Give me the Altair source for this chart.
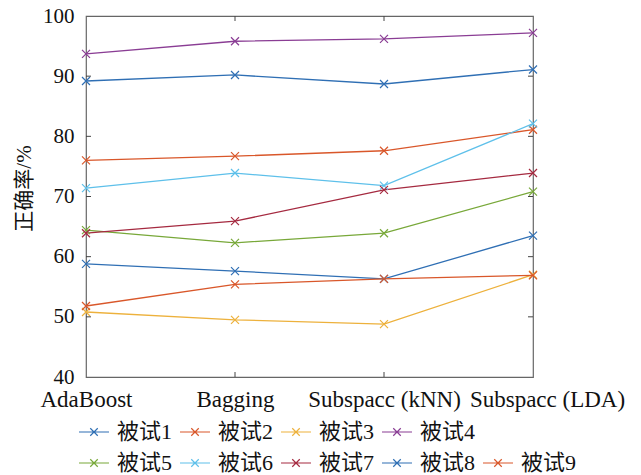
import altair as alt
import pandas as pd

categories = ["AdaBoost", "Bagging", "Subspacc (kNN)", "Subspacc (LDA)"]
series_names = ["被试1", "被试2", "被试3", "被试4", "被试5", "被试6", "被试7", "被试8", "被试9"]
s1 = [89.2, 90.2, 88.7, 91.1]
s2 = [76.0, 76.7, 77.6, 81.1]
s3 = [50.8, 49.5, 48.8, 57.0]
s4 = [93.7, 95.8, 96.2, 97.2]
s5 = [64.4, 62.3, 63.9, 70.8]
s6 = [71.4, 73.9, 71.8, 82.1]
s7 = [63.9, 65.9, 71.1, 73.9]
s8 = [58.8, 57.6, 56.3, 63.5]
s9 = [51.8, 55.4, 56.3, 56.9]
series_values = [s1, s2, s3, s4, s5, s6, s7, s8, s9]
colors = ["#2f6fb4", "#d9572a", "#edb13c", "#8a3d94", "#78a839", "#5ec0ea",
          "#a52a40", "#2f6fb4", "#d9572a"]
y_ticks = [40, 50, 60, 70, 80, 90, 100]
inner_y_ticks = [50, 60, 70, 80, 90]
inner_x_ticks = ["Bagging", "Subspacc (kNN)"]

rows = []
for name, vals in zip(series_names, series_values):
    for c, v in zip(categories, vals):
        rows.append({"series": name, "method": c, "acc": v})
df = pd.DataFrame(rows)

W, H = 447, 361
SERIF = "Liberation Serif, Noto Sans CJK SC"
XPATH = "M-1,-1L1,1M-1,1L1,-1"
LEGPATH = "M-1,0L1,0M-0.25,-0.25L0.25,0.25M-0.25,0.25L0.25,-0.25"

xscale = alt.Scale(type="point", domain=categories, padding=0)
yscale = alt.Scale(domain=[40, 100], nice=False, zero=False)

x_enc = alt.X(
    "method:N",
    scale=xscale,
    sort=categories,
    axis=alt.Axis(
        title=None, labelAngle=0, ticks=False, domain=False, grid=False,
        labelFont=SERIF, labelFontSize=23, labelColor="#111", labelPadding=11,
        labelOffset={"condition": {"test": "datum.value === 'Subspacc (LDA)'", "value": 14}, "value": 0},
    ),
)
y_enc = alt.Y(
    "acc:Q",
    scale=yscale,
    axis=alt.Axis(
        title="正确率/%", values=y_ticks, ticks=False, domain=False, grid=False,
        labelFont=SERIF, labelFontSize=21, labelColor="#111", labelPadding=12,
        titleFont=SERIF, titleFontSize=21, titleFontWeight="normal", titleColor="#111",
        titleX=-52, titleY=172,
    ),
)


def group(names, cols, lx, ly, ncol):
    sub = df[df["series"].isin(names)]
    legend = alt.Legend(
        title=None, orient="none", legendX=lx, legendY=ly, columns=ncol,
        symbolType=LEGPATH, symbolSize=900, symbolStrokeWidth=1.2,
        symbolFillColor="transparent", labelFont=SERIF, labelFontSize=22,
        labelColor="#111", labelOffset=7, columnPadding=4, rowPadding=3, padding=0,
    )
    color = alt.Color("series:N", scale=alt.Scale(domain=names, range=cols),
                      sort=names, legend=legend)
    base = alt.Chart(sub).encode(x=x_enc, y=y_enc, color=color)
    lines = base.mark_line(strokeWidth=1.3)
    pts = base.mark_point(shape=XPATH, filled=False, size=64, strokeWidth=1.2, opacity=1)
    return alt.layer(lines, pts)


gA = group(series_names[:4], colors[:4], -8, 400, 4)
gB = group(series_names[4:], colors[4:], -8, 431, 5)

ytick_df = pd.DataFrame({"acc": inner_y_ticks})
xtick_df = pd.DataFrame({"method": inner_x_ticks})
tick_style = dict(color="#444", strokeWidth=1)
lt = alt.Chart(ytick_df).mark_rule(**tick_style).encode(
    y=alt.Y("acc:Q", scale=yscale), x=alt.value(0), x2=alt.value(5))
rt = alt.Chart(ytick_df).mark_rule(**tick_style).encode(
    y=alt.Y("acc:Q", scale=yscale), x=alt.value(W), x2=alt.value(W - 5))
bt = alt.Chart(xtick_df).mark_rule(**tick_style).encode(
    x=alt.X("method:N", scale=xscale, sort=categories),
    y=alt.value(H), y2=alt.value(H - 5))
tt = alt.Chart(xtick_df).mark_rule(**tick_style).encode(
    x=alt.X("method:N", scale=xscale, sort=categories),
    y=alt.value(0), y2=alt.value(5))

chart = alt.layer(gA, gB, lt, rt, bt, tt).resolve_scale(color="independent").properties(
    width=W, height=H,
    autosize=alt.AutoSizeParams(type="none"),
    padding={"left": 86, "top": 16, "right": 641 - 86 - W, "bottom": 475 - 16 - H},
    background="white",
).configure_view(stroke="#666", strokeWidth=1.2)

chart.save("out.html", embed_options={"renderer": "svg", "actions": False})
